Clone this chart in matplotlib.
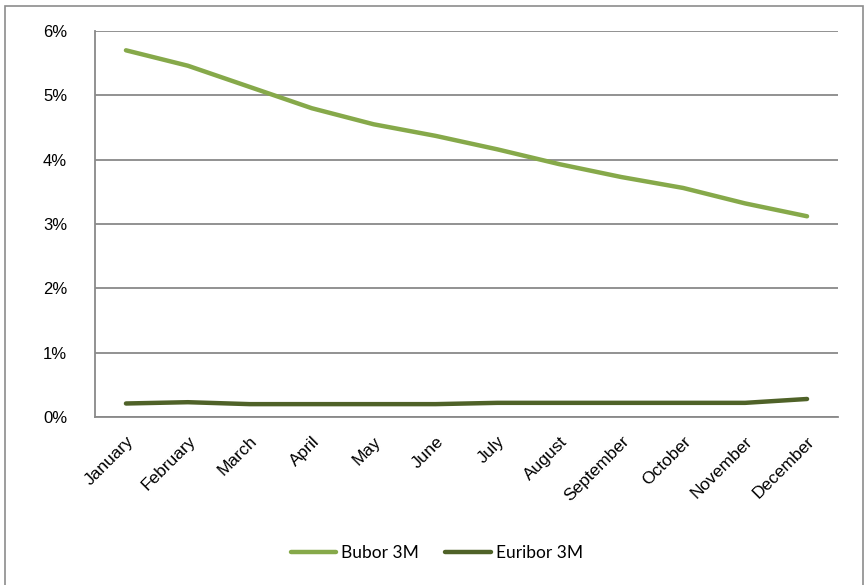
import matplotlib
matplotlib.use("Agg")
import matplotlib.pyplot as plt
from matplotlib.patches import Rectangle
from matplotlib.ticker import FuncFormatter
from matplotlib.transforms import ScaledTranslation

months = ["January", "February", "March", "April", "May", "June", "July",
          "August", "September", "October", "November", "December"]
bubor_3m = [5.70, 5.46, 5.13, 4.80, 4.55, 4.37, 4.16, 3.93, 3.73, 3.56, 3.32, 3.12]
euribor_3m = [0.21, 0.23, 0.20, 0.20, 0.20, 0.20, 0.22, 0.22, 0.22, 0.22, 0.22, 0.28]
y_ticks = [0, 1, 2, 3, 4, 5, 6]

W, H = 866, 585
fig = plt.figure(figsize=(W / 100, H / 100), dpi=100)
ax = fig.add_axes([95 / W, 1 - 417 / H, (838 - 95) / W, (417 - 31) / H])

grid_col = "#898989"
x = list(range(len(months)))
ax.plot(x, bubor_3m, color="#86A94A", lw=3.2, solid_capstyle="round",
        solid_joinstyle="round", label="Bubor 3M", zorder=3)
ax.plot(x, euribor_3m, color="#4F6228", lw=3.2, solid_capstyle="round",
        solid_joinstyle="round", label="Euribor 3M", zorder=3)

ax.set_xlim(-0.5, len(months) - 0.5)
ax.set_ylim(0, 6)
ax.set_yticks(y_ticks)
ax.yaxis.set_major_formatter(FuncFormatter(lambda v, p: f"{int(v)}%"))
ax.yaxis.grid(True, color=grid_col, lw=1.3)
ax.set_axisbelow(True)
ax.set_xticks(x)
ax.set_xticklabels(months, rotation=45, ha="right", va="top",
                   rotation_mode="anchor", fontsize=12.5,
                   family="Liberation Sans")
shift = ScaledTranslation(-5 / 100, 0, fig.dpi_scale_trans)
for lbl in ax.get_xticklabels():
    lbl.set_transform(lbl.get_transform() + shift)
for lbl in ax.get_yticklabels():
    lbl.set_family("Liberation Sans")
    lbl.set_fontsize(12)
ax.tick_params(axis="both", length=0)
ax.tick_params(axis="y", pad=20)
ax.tick_params(axis="x", pad=12)

for s in ["top", "right"]:
    ax.spines[s].set_visible(False)
for s in ["left", "bottom"]:
    ax.spines[s].set_color(grid_col)
    ax.spines[s].set_linewidth(1.3)

leg = ax.legend(loc="center", bbox_to_anchor=(437 / W, 1 - 553 / H),
                bbox_transform=fig.transFigure, ncol=2, frameon=False,
                prop={"family": "Lato", "size": 12.5}, handlelength=2.6,
                handletextpad=0.3, columnspacing=1.5)

fig.patches.append(Rectangle((5 / W, -0.02), (863 - 5) / W, 1 - 6 / H + 0.02,
                             transform=fig.transFigure, fill=False,
                             edgecolor="#8c8c8c", lw=1.2))

fig.savefig("out.png", dpi=100)
